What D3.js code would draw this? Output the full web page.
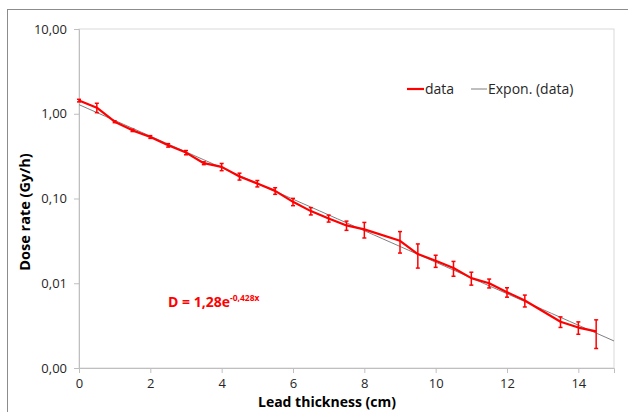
<!DOCTYPE html>
<html>
<head>
<meta charset="utf-8">
<script src="https://cdn.jsdelivr.net/npm/d3@7"></script>
<style>
  body { margin: 0; background: #fff; }
  text { font-family: "Liberation Sans Narrow", "Open Sans", "Noto Sans", sans-serif; }
</style>
</head>
<body>
<div id="chart"></div>
<script>
// Lead thickness (cm) and measured dose rate (Gy/h), with error bar half-widths
var thickness = [0, 0.5, 1, 1.5, 2, 2.5, 3, 3.5, 4, 4.5, 5, 5.5, 6, 6.5, 7, 7.5, 8,
                 9, 9.5, 10, 10.5, 11, 11.5, 12, 12.5, 13.5, 14, 14.5];
var doseRate = [1.43, 1.18, 0.805, 0.637, 0.532, 0.424, 0.348, 0.261, 0.236, 0.182, 0.150, 0.123,
                0.0913, 0.0710, 0.0582, 0.0481, 0.0432,
                0.0317, 0.0221, 0.0184, 0.0151, 0.0115, 0.0100, 0.00785, 0.00625, 0.00351, 0.0030, 0.0027];
var doseErr = [0.05, 0.15, 0.02, 0.02, 0.02, 0.02, 0.02, 0.01, 0.023, 0.017, 0.013, 0.011,
               0.009, 0.007, 0.0055, 0.006, 0.009,
               0.009, 0.007, 0.003, 0.003, 0.002, 0.0012, 0.001, 0.001, 0.0005, 0.0005, 0.001];

// exponential fit D = a * exp(b x)
var fitA = 1.28, fitB = -0.428;
var fitX = [0, 15];

var xTicks = [0, 2, 4, 6, 8, 10, 12, 14];
var yTicks = [10, 1, 0.1, 0.01, 0.001];
var yTickLabels = ["10,00", "1,00", "0,10", "0,01", "0,00"];

var margin = {top: 29, right: 14, bottom: 44, left: 79}
  , width = 628 - margin.left - margin.right
  , height = 412 - margin.top - margin.bottom;

var svg = d3.select("#chart").append("svg")
    .attr("width", 628)
    .attr("height", 412);

// outer chart frame
svg.append("rect")
    .attr("x", 7.5).attr("y", 9.5)
    .attr("width", 640).attr("height", 420)
    .attr("fill", "none")
    .attr("stroke", "#8c8c8c");

var g = svg.append("g")
    .attr("transform", "translate(" + margin.left + "," + margin.top + ")");

var xScale = d3.scaleLinear()
    .domain([0, 15])
    .range([0, width]);

var yScale = d3.scaleLog()
    .domain([0.001, 10])
    .range([height, 0]);

// plot area border
g.append("rect")
    .attr("x", 0).attr("y", 0)
    .attr("width", width).attr("height", height)
    .attr("fill", "none")
    .attr("stroke", "#d9d9d9");

// x axis
var xAxis = g.append("g")
    .attr("transform", "translate(0," + height + ")")
    .call(d3.axisBottom(xScale).tickValues(xTicks).tickSize(5).tickPadding(6));

// y axis
var yAxis = g.append("g")
    .call(d3.axisLeft(yScale).tickValues(yTicks).tickSize(5).tickPadding(7)
      .tickFormat(function(d, i) { return yTickLabels[i]; }));

[xAxis, yAxis].forEach(function(ax) {
  ax.select(".domain").attr("stroke", "#bfbfbf");
  ax.selectAll(".tick line").attr("stroke", "#bfbfbf");
  ax.selectAll(".tick text")
    .attr("fill", "#262626")
    .style("font-size", "13px")
    .style("font-family", "'Liberation Sans Narrow', 'Open Sans', sans-serif");
});

// trend line
var fitLine = d3.line()
    .x(function(d) { return xScale(d); })
    .y(function(d) { return yScale(fitA * Math.exp(fitB * d)); });

var fitPts = d3.range(fitX[0], fitX[1] + 0.001, 0.25);
g.append("path")
    .datum(fitPts)
    .attr("d", fitLine)
    .attr("fill", "none")
    .attr("stroke", "#7f7f7f")
    .attr("stroke-width", 1);

// data line
var dataLine = d3.line()
    .x(function(d, i) { return xScale(thickness[i]); })
    .y(function(d) { return yScale(d); });

g.append("path")
    .datum(doseRate)
    .attr("d", dataLine)
    .attr("fill", "none")
    .attr("stroke", "#ff0000")
    .attr("stroke-width", 2.2)
    .attr("stroke-linejoin", "round");

// error bars
var bars = g.append("g").attr("stroke", "#ff0000").attr("stroke-width", 1.5);
doseRate.forEach(function(v, i) {
  var x = xScale(thickness[i]);
  var y0 = yScale(v - doseErr[i]), y1 = yScale(v + doseErr[i]);
  bars.append("line").attr("x1", x).attr("x2", x).attr("y1", y0).attr("y2", y1);
  bars.append("line").attr("x1", x - 2).attr("x2", x + 2).attr("y1", y0).attr("y2", y0);
  bars.append("line").attr("x1", x - 2).attr("x2", x + 2).attr("y1", y1).attr("y2", y1);
});

// equation label
var eq = g.append("text")
    .attr("x", 89)
    .attr("y", 278)
    .attr("fill", "#ff0000")
    .style("font-weight", "bold")
    .style("font-size", "14px");
eq.append("tspan").text("D = 1,28e");
eq.append("tspan").attr("dy", -6).style("font-size", "8.5px").text("-0,428x");

// legend
var legend = svg.append("g");
legend.append("line")
    .attr("x1", 407).attr("x2", 424).attr("y1", 89).attr("y2", 89)
    .attr("stroke", "#ff0000").attr("stroke-width", 2.2);
legend.append("text")
    .attr("x", 425).attr("y", 94)
    .attr("fill", "#262626")
    .style("font-size", "14px")
    .text("data");
legend.append("line")
    .attr("x1", 471).attr("x2", 487).attr("y1", 89).attr("y2", 89)
    .attr("stroke", "#7f7f7f").attr("stroke-width", 1);
legend.append("text")
    .attr("x", 488).attr("y", 94)
    .attr("fill", "#262626")
    .style("font-size", "14px")
    .text("Expon. (data)");

// axis titles
svg.append("text")
    .attr("x", 327)
    .attr("y", 407)
    .attr("text-anchor", "middle")
    .style("font-weight", "bold")
    .style("font-size", "14px")
    .text("Lead thickness (cm)");

svg.append("text")
    .attr("transform", "rotate(-90)")
    .attr("x", -212)
    .attr("y", 30)
    .attr("text-anchor", "middle")
    .style("font-weight", "bold")
    .style("font-size", "14.5px")
    .text("Dose rate (Gy/h)");
</script>
</body>
</html>
